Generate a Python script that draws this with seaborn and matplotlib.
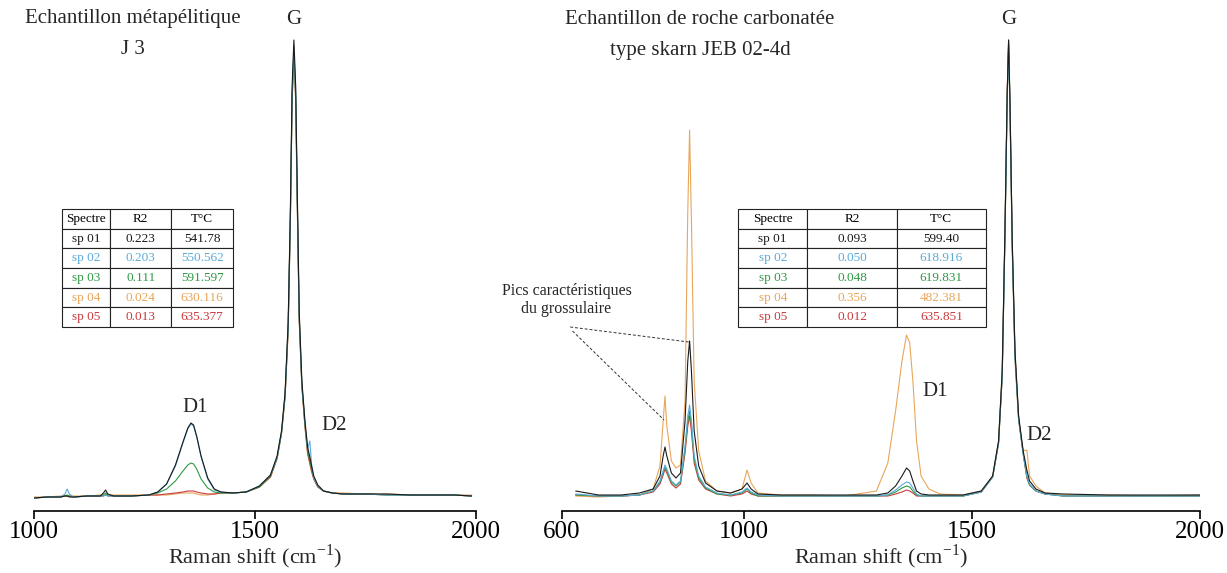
import matplotlib
matplotlib.use('Agg')
import matplotlib.pyplot as plt
import seaborn as sns
import pandas as pd

# Spectres Raman (intensité en unités arbitraires)
spectra = ['sp 01', 'sp 02', 'sp 03', 'sp 04', 'sp 05']
colours = ['#1a1a1a', '#5aaad8', '#2e9a45', '#e8a65a', '#c83a3e']
draw_order = ['sp 04', 'sp 05', 'sp 03', 'sp 02', 'sp 01']

# Echantillon métapélitique J 3
shift_j3 = [1000, 1030, 1060, 1070, 1075, 1080, 1090, 1120, 1150, 1157,
            1162, 1167, 1180, 1220, 1260, 1280, 1300, 1320, 1337, 1348,
            1355, 1361, 1368, 1378, 1393, 1408, 1423, 1450, 1480, 1510,
            1535, 1550, 1560, 1568, 1575, 1580, 1584, 1588, 1592, 1596,
            1600, 1606, 1613, 1619, 1624, 1628, 1633, 1642, 1655, 1675,
            1700, 1750, 1800, 1850, 1900, 1950, 1990]
j3_sp01 = [13, 14, 14, 15, 15, 14, 14, 15, 15, 18,
           21, 17, 15, 15, 16, 19, 27, 46, 69, 83,
           88, 86, 75, 55, 33, 22, 19, 18, 19, 25,
           36, 55, 80, 118, 188, 300, 425, 471, 425, 310,
           200, 130, 90, 64, 54, 45, 35, 26, 20, 18,
           17, 17, 17, 16, 16, 16, 15]
j3_sp02 = [13, 14, 14, 17, 22, 17, 14, 15, 15, 15,
           16, 15, 15, 15, 16, 19, 27, 45, 68, 82,
           87, 85, 74, 54, 32, 21, 19, 18, 19, 25,
           36, 54, 79, 116, 185, 295, 418, 465, 420, 305,
           196, 128, 88, 62, 70, 47, 33, 25, 20, 18,
           17, 17, 16, 16, 16, 16, 15]
j3_sp03 = [13, 14, 14, 15, 16, 15, 14, 15, 15, 16,
           18, 16, 15, 15, 16, 18, 22, 30, 40, 46,
           48, 47, 42, 32, 23, 19, 18, 18, 19, 24,
           35, 53, 78, 115, 183, 292, 415, 460, 415, 300,
           194, 126, 87, 60, 50, 42, 33, 25, 20, 18,
           17, 17, 16, 16, 16, 16, 15]
j3_sp04 = [14, 14, 15, 15, 15, 15, 15, 15, 16, 16,
           16, 16, 16, 16, 16, 16, 16, 17, 18, 18,
           18, 18, 17, 16, 16, 17, 18, 18, 19, 24,
           34, 52, 77, 113, 179, 288, 410, 455, 410, 296,
           190, 124, 84, 57, 47, 39, 32, 24, 20, 18,
           18, 17, 17, 16, 16, 16, 16]
j3_sp05 = [13, 14, 14, 15, 15, 15, 14, 15, 15, 15,
           16, 15, 15, 15, 16, 16, 17, 18, 19, 20,
           20, 20, 19, 18, 17, 17, 18, 18, 19, 24,
           34, 53, 78, 114, 181, 290, 412, 458, 412, 298,
           192, 125, 85, 58, 48, 40, 32, 24, 20, 18,
           17, 17, 16, 16, 16, 16, 15]

# Echantillon de roche carbonatée, type skarn JEB 02-4d
shift_jeb = [630, 680, 730, 770, 800, 815, 822, 826, 830, 840,
             850, 860, 870, 876, 880, 884, 890, 900, 915, 940,
             970, 995, 1006, 1015, 1030, 1080, 1150, 1220, 1290, 1315,
             1332, 1346, 1356, 1363, 1370, 1378, 1388, 1405, 1430, 1480,
             1520, 1545, 1558, 1566, 1572, 1577, 1580, 1583, 1588, 1594,
             1602, 1612, 1620, 1626, 1640, 1660, 1700, 1800, 1900, 2000]
jeb_sp01 = [20, 16, 16, 18, 22, 35, 55, 64, 55, 38,
            33, 38, 90, 150, 170, 140, 80, 45, 28, 20,
            18, 22, 28, 22, 17, 16, 16, 16, 16, 18,
            25, 35, 43, 40, 30, 20, 17, 16, 16, 16,
            20, 35, 70, 140, 280, 420, 471, 410, 270, 160,
            95, 60, 41, 30, 22, 18, 17, 16, 16, 16]
jeb_sp02 = [17, 15, 15, 16, 20, 30, 40, 46, 42, 30,
            26, 30, 65, 95, 106, 90, 55, 35, 24, 18,
            16, 19, 23, 19, 16, 15, 15, 15, 15, 16,
            21, 26, 29, 28, 23, 17, 15, 15, 15, 15,
            19, 34, 68, 135, 275, 415, 466, 405, 265, 155,
            92, 57, 35, 27, 20, 17, 15, 15, 15, 15]
jeb_sp03 = [16, 15, 15, 16, 20, 29, 39, 44, 40, 29,
            25, 29, 62, 90, 100, 86, 52, 33, 23, 17,
            16, 18, 22, 18, 15, 15, 15, 15, 15, 16,
            19, 23, 25, 24, 20, 16, 15, 15, 15, 15,
            19, 34, 68, 135, 275, 415, 468, 405, 265, 155,
            92, 57, 34, 26, 20, 17, 15, 15, 15, 15]
jeb_sp04 = [15, 14, 15, 16, 22, 45, 90, 115, 85, 50,
            43, 46, 110, 300, 381, 290, 130, 60, 30, 20,
            18, 22, 41, 28, 18, 16, 16, 15, 20, 48,
            100, 150, 176, 168, 130, 70, 35, 22, 17, 16,
            20, 35, 70, 140, 280, 420, 462, 400, 260, 150,
            90, 60, 61, 35, 25, 18, 16, 16, 15, 16]
jeb_sp05 = [16, 15, 15, 16, 19, 27, 36, 42, 38, 27,
            23, 27, 58, 85, 95, 80, 48, 31, 22, 17,
            15, 17, 20, 17, 15, 15, 15, 15, 15, 15,
            17, 19, 21, 20, 18, 15, 15, 15, 15, 15,
            19, 34, 68, 135, 275, 418, 471, 408, 268, 158,
            93, 58, 33, 26, 20, 17, 15, 15, 15, 15]

# Tableaux R2 / T°C
table_cols = ['Spectre', 'R2', 'T°C']
j3_r2 = ['0.223', '0.203', '0.111', '0.024', '0.013']
j3_temp = ['541.78', '550.562', '591.597', '630.116', '635.377']
jeb_r2 = ['0.093', '0.050', '0.048', '0.356', '0.012']
jeb_temp = ['599.40', '618.916', '619.831', '482.381', '635.851']


def long_table(shift, series):
    frames = []
    for name, values in zip(spectra, series):
        frames.append(pd.DataFrame({'shift': shift, 'intensity': values, 'spectre': name}))
    return pd.concat(frames, ignore_index=True)


df_j3 = long_table(shift_j3, [j3_sp01, j3_sp02, j3_sp03, j3_sp04, j3_sp05])
df_jeb = long_table(shift_jeb, [jeb_sp01, jeb_sp02, jeb_sp03, jeb_sp04, jeb_sp05])

sns.set_style('white')
plt.rcParams['font.family'] = ['Liberation Serif', 'DejaVu Serif']
plt.rcParams['mathtext.fontset'] = 'custom'
plt.rcParams['mathtext.rm'] = 'Liberation Serif'

palette = dict(zip(spectra, colours))
fig = plt.figure(figsize=(12.27, 5.73), dpi=100)
W, H = 1227, 573

ax1 = fig.add_axes([34 / W, 62 / H, 442 / W, 481 / H])
ax2 = fig.add_axes([562 / W, 62 / H, 638 / W, 481 / H])

for ax, df, xlim, ticks in [(ax1, df_j3, (1000, 2000), [1000, 1500, 2000]),
                            (ax2, df_jeb, (600, 2000), [600, 1000, 1500, 2000])]:
    sns.lineplot(data=df, x='shift', y='intensity', hue='spectre', hue_order=draw_order,
                 palette=palette, estimator=None, sort=False, legend=False,
                 linewidth=0.8, ax=ax)
    ax.set_xlim(*xlim)
    ax.set_ylim(0, 481)
    ax.set_xticks(ticks)
    ax.set_yticks([])
    ax.set_ylabel('')
    ax.set_xlabel(r'Raman shift (cm$^{\mathrm{-1}}$)', fontsize=16, labelpad=0)
    for s in ['left', 'right', 'top']:
        ax.spines[s].set_visible(False)
    ax.spines['bottom'].set_linewidth(1.2)
    ax.spines['bottom'].set_color('black')
    ax.tick_params(axis='x', direction='out', length=6, width=1.2, labelsize=18, pad=1,
                   bottom=True, colors='black')
    ax.patch.set_alpha(0)

# Titres
fig.text(133 / W, 1 - 19 / H, 'Echantillon métapélitique', ha='center', va='center', fontsize=15)
fig.text(133 / W, 1 - 50 / H, 'J 3', ha='center', va='center', fontsize=15)
fig.text(700 / W, 1 - 19 / H, 'Echantillon de roche carbonatée', ha='center', va='center', fontsize=15)
fig.text(700 / W, 1 - 50 / H, 'type skarn JEB 02-4d', ha='center', va='center', fontsize=15)

# Bandes
ax1.text(1588, 492, 'G', ha='center', va='center', fontsize=15)
ax1.text(1365, 104, 'D1', ha='center', va='center', fontsize=15)
ax1.text(1680, 86, 'D2', ha='center', va='center', fontsize=15)
ax2.text(1580, 492, 'G', ha='center', va='center', fontsize=15)
ax2.text(1418, 119, 'D1', ha='center', va='center', fontsize=15)
ax2.text(1648, 75, 'D2', ha='center', va='center', fontsize=15)

# Pics du grossulaire
ax2.text(610, 211, 'Pics caractéristiques\ndu grossulaire', ha='center', va='center',
         fontsize=11.5, linespacing=1.1)
ax2.plot([618, 878], [184, 169], color='#333333', lw=0.7, ls=(0, (3, 2)))
ax2.plot([623, 824], [180, 91], color='#333333', lw=0.7, ls=(0, (3, 2)))


def draw_table(x0, x1, r2, temp):
    tax = fig.add_axes([x0 / W, 1 - 327 / H, (x1 - x0) / W, 118 / H])
    tax.axis('off')
    rows = [[s, a, b] for s, a, b in zip(spectra, r2, temp)]
    tab = tax.table(cellText=rows, colLabels=table_cols, cellLoc='center',
                    colWidths=[0.28, 0.36, 0.36], bbox=[0, 0, 1, 1])
    tab.auto_set_font_size(False)
    for (r, c), cell in tab.get_celld().items():
        cell.set_linewidth(0.8)
        cell.set_edgecolor('#222222')
        colour = 'black' if r == 0 else colours[r - 1]
        cell.get_text().set_color(colour)
        cell.get_text().set_fontsize(9.5)
        cell.get_text().set_fontfamily('Liberation Serif')


draw_table(62, 233, j3_r2, j3_temp)
draw_table(738, 986, jeb_r2, jeb_temp)

fig.savefig('out.png', dpi=100, facecolor='white')
